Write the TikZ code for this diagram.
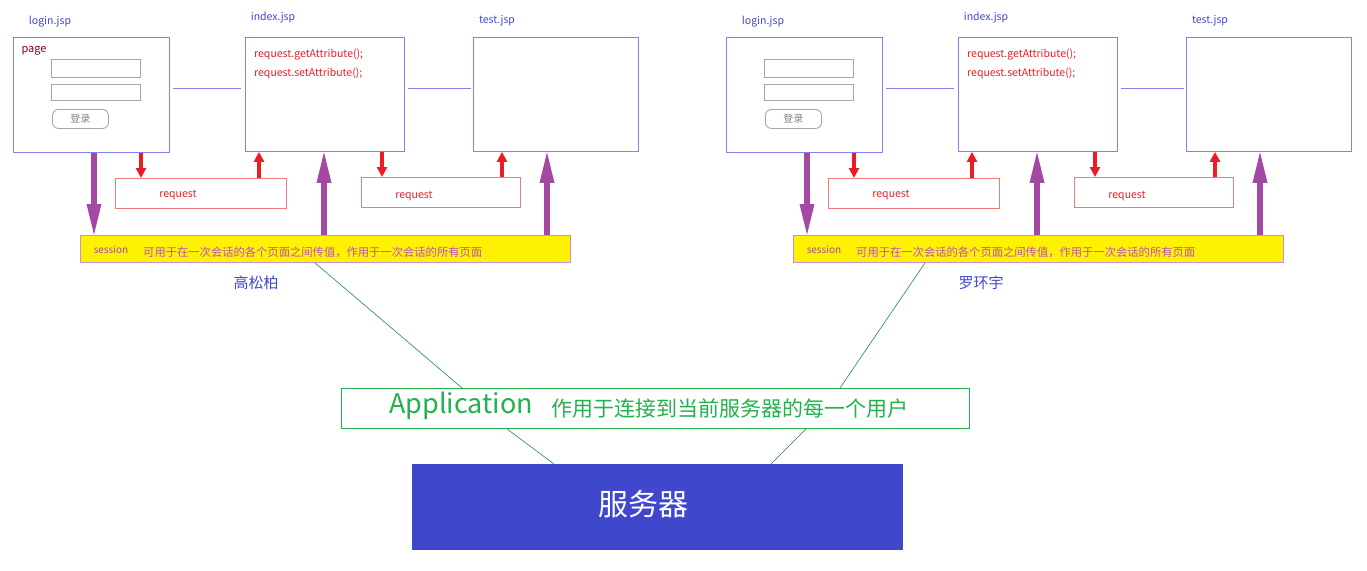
\documentclass[tikz,border=0pt]{standalone}
\usepackage{fontspec}
\setmainfont{Noto Sans CJK SC}
\usetikzlibrary{positioning,arrows.meta,calc}

\definecolor{jspblue}{HTML}{3F48CC}
\definecolor{pageline}{HTML}{8282E8}
\definecolor{reqred}{HTML}{ED1C24}
\definecolor{reqline}{HTML}{F27A7A}
\definecolor{sesspurple}{HTML}{A349A4}
\definecolor{sesstext}{HTML}{C04CC8}
\definecolor{sessline}{HTML}{C890D8}
\definecolor{sessyellow}{HTML}{FFF200}
\definecolor{appgreen}{HTML}{22B14C}
\definecolor{serverblue}{HTML}{3F48CC}
\definecolor{pagered}{HTML}{880015}

\tikzset{
  box/.style={inner sep=0pt, anchor=north west},
  pagebox/.style={box, draw=pageline, line width=0.9pt},
  inputbox/.style={box, draw=gray!70, line width=0.9pt},
  btnbox/.style={box, draw=gray!70, line width=0.9pt, rounded corners=6pt,
    text=gray, font=\fontsize{10}{12}\selectfont},
  reqbox/.style={box, draw=reqline, line width=0.9pt},
  sessbox/.style={box, draw=sessline, fill=sessyellow, line width=0.9pt},
  jsplabel/.style={text=jspblue, font=\fontsize{10.5}{12}\selectfont, inner sep=0pt},
  reqtext/.style={text=reqred, font=\fontsize{10.5}{12}\selectfont, inner sep=0pt},
  linkline/.style={draw=pageline, line width=0.9pt},
  reqarrow/.style={draw=reqred, line width=3.5pt, -{Triangle[length=10pt,width=10pt]}},
  sessarrow/.style={draw=sesspurple, line width=6pt, shorten >=-3pt,
    -{Triangle[length=34pt,width=13pt]}},
  appline/.style={draw=appgreen!80!black, line width=0.6pt}
}

\begin{document}
\begin{tikzpicture}[x=1pt,y=-1pt]
  \useasboundingbox (0,0) rectangle (1367,570);

  % two users, same pages
  \foreach \g/\dx/\who/\wx in {L/0/高松柏/256, R/713/罗环宇/268}{%
    \begin{scope}[xshift=\dx pt]
      % pages
      \node[pagebox, minimum width=156pt, minimum height=115pt] (login\g) at (13,37) {};
      \node[pagebox, minimum width=159pt, minimum height=114pt] (index\g) at (245,37) {};
      \node[pagebox, minimum width=165pt, minimum height=114pt] (test\g) at (473,37) {};
      \node[jsplabel] (loginname\g) at (50,22) {login.jsp};
      \node[jsplabel] (indexname\g) at (273,18) {index.jsp};
      \node[jsplabel] (testname\g) at (497,21) {test.jsp};
      % login form
      \node[inputbox, minimum width=89pt, minimum height=18pt] (user\g) at (51,59) {};
      \node[inputbox, minimum width=89pt, minimum height=16pt] (pass\g) at (51,84) {};
      \node[btnbox, minimum width=56pt, minimum height=19pt] (btn\g) at (52,109) {登录};
      % index code
      \node[reqtext, anchor=west] (get\g) at (254,55) {request.getAttribute();};
      \node[reqtext, anchor=west] (set\g) at (254,73) {request.setAttribute();};
      \draw[linkline] ($(login\g.north east)+(3,51)$) -- ($(index\g.north west)+(-4,51)$);
      \draw[linkline] ($(index\g.north east)+(3,51)$) -- ($(test\g.north west)+(-2,51)$);
      % request
      \node[reqbox, minimum width=171pt, minimum height=30pt] (reqa\g) at (115,178) {};
      \node[reqbox, minimum width=159pt, minimum height=30pt] (reqb\g) at (361,177) {};
      \node[reqtext] (reqatext\g) at (178,195) {request};
      \node[reqtext] (reqbtext\g) at (414,196) {request};
      \draw[reqarrow] ([xshift=128pt]login\g.south west) -- ([xshift=26pt]reqa\g.north west);
      \draw[reqarrow] ([xshift=144pt]reqa\g.north west) -- ([xshift=14pt]index\g.south west);
      \draw[reqarrow] ([xshift=137pt]index\g.south west) -- ([xshift=21pt]reqb\g.north west);
      \draw[reqarrow] ([xshift=141pt]reqb\g.north west) -- ([xshift=29pt]test\g.south west);
      % session
      \node[sessbox, minimum width=490pt, minimum height=27pt] (sess\g) at (80,235) {};
      \node[text=sesspurple, font=\fontsize{10}{12}\selectfont, inner sep=0pt] (sessname\g) at (111,250) {session};
      \node[text=sesstext, font=\fontsize{11.3}{12}\selectfont, inner sep=0pt, anchor=west] (sesstext\g) at (143,252)
        {可用于在一次会话的各个页面之间传值，作用于一次会话的所有页面};
      \draw[sessarrow] ([xshift=81pt]login\g.south west) -- ([xshift=14pt]sess\g.north west);
      \draw[sessarrow] ([xshift=244pt]sess\g.north west) -- ([xshift=79pt]index\g.south west);
      \draw[sessarrow] ([xshift=467pt]sess\g.north west) -- ([xshift=74pt]test\g.south west);
      \node[text=jspblue, font=\fontsize{15}{18}\selectfont, inner sep=0pt] (who\g) at (\wx,283) {\who};
    \end{scope}
  }
  \node[text=pagered, font=\fontsize{11}{12}\selectfont, inner sep=0pt] (pageL) at (34,51) {page};

  % application and server
  \node[box, draw=appgreen, line width=0.9pt, minimum width=628pt, minimum height=40pt] (app) at (341,388) {};
  \node[text=appgreen, font=\fontsize{27}{30}\selectfont, inner sep=0pt] (appname) at (461,406) {Application};
  \node[text=appgreen, font=\fontsize{21}{24}\selectfont, inner sep=0pt, anchor=west] (apptext) at (551,409)
    {作用于连接到当前服务器的每一个用户};
  \node[box, fill=serverblue, minimum width=491pt, minimum height=86pt] (server) at (412,464) {};
  \node[text=white, font=\fontsize{30}{34}\selectfont, inner sep=0pt] (servername) at (643,504) {服务器};

  \draw[appline] ([xshift=235pt]sessL.south west) -- ([xshift=121pt]app.north west);
  \draw[appline] ([xshift=132pt]sessR.south west) -- ([xshift=499pt]app.north west);
  \draw[appline] ([xshift=166pt]app.south west) -- ([xshift=142pt]server.north west);
  \draw[appline] ([xshift=465pt]app.south west) -- ([xshift=359pt]server.north west);
\end{tikzpicture}
\end{document}
